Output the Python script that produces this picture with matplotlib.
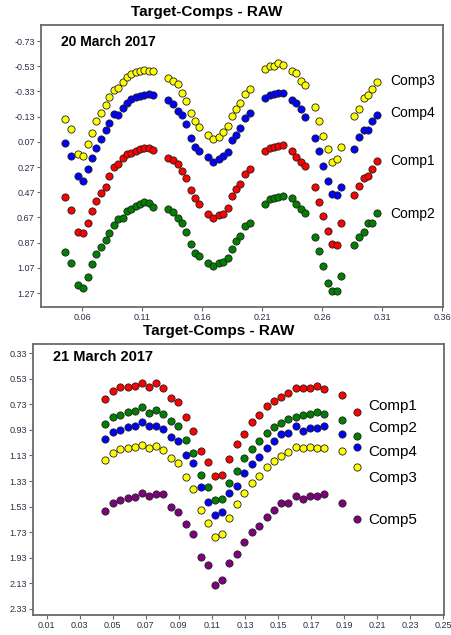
import matplotlib
matplotlib.use("Agg")
import matplotlib.pyplot as plt

plt.rcParams["font.family"] = ["Liberation Sans", "DejaVu Sans"]

# ---------------- 20 March 2017 ----------------
x_mar20 = [
    0.0456, 0.0503, 0.0567, 0.0606, 0.0645, 0.0681, 0.0718, 0.0753, 0.0795, 0.0827,
    0.0864, 0.0900, 0.0939, 0.0972, 0.1008, 0.1047, 0.1081, 0.1116, 0.1153, 0.1191,
    0.1316, 0.1358, 0.1397, 0.1431, 0.1466, 0.1503, 0.1539, 0.1575, 0.1650, 0.1691,
    0.1736, 0.1775, 0.1811, 0.1847, 0.1883, 0.1919, 0.1958, 0.1997,
    0.2127, 0.2164, 0.2197, 0.2233, 0.2274, 0.2349, 0.2386, 0.2422, 0.2461,
    0.2538, 0.2574, 0.2611, 0.2647, 0.2686, 0.2722, 0.2761,
    0.2866, 0.2905, 0.2947, 0.2980, 0.3019, 0.3055,
]
comp3_mar20 = [
    -0.109, -0.029, 0.167, 0.183, 0.087, 0.003, -0.097, -0.156, -0.224, -0.288,
    -0.341, -0.359, -0.407, -0.447, -0.466, -0.482, -0.494, -0.502, -0.494, -0.494,
    -0.434, -0.415, -0.389, -0.315, -0.254, -0.161, -0.097, -0.045, 0.014, 0.050,
    0.034, -0.010, -0.058, -0.135, -0.190, -0.236, -0.307, -0.349,
    -0.505, -0.532, -0.532, -0.558, -0.540, -0.494, -0.478, -0.415, -0.381,
    -0.209, -0.097, 0.024, 0.127, 0.228, 0.209, 0.114,
    -0.135, -0.190, -0.275, -0.301, -0.347, -0.402,
]
comp4_mar20 = [
    0.082, 0.183, 0.339, 0.381, 0.288, 0.199, 0.119, 0.048, -0.024, -0.077,
    -0.153, -0.140, -0.196, -0.236, -0.270, -0.283, -0.296, -0.304, -0.309, -0.299,
    -0.262, -0.230, -0.177, -0.143, -0.069, 0.037, 0.109, 0.141, 0.188, 0.228,
    0.209, 0.183, 0.151, 0.056, 0.016, -0.037, -0.117, -0.156,
    -0.280, -0.301, -0.307, -0.320, -0.320, -0.262, -0.236, -0.188, -0.124,
    0.042, 0.141, 0.260, 0.381, 0.484, 0.490, 0.426,
    0.127, 0.030, -0.024, -0.024, -0.095, -0.143,
]
comp1_mar20 = [
    0.506, 0.611, 0.783, 0.796, 0.712, 0.617, 0.540, 0.476, 0.426, 0.341,
    0.272, 0.249, 0.201, 0.169, 0.161, 0.141, 0.130, 0.122, 0.122, 0.133,
    0.201, 0.214, 0.249, 0.299, 0.360, 0.453, 0.518, 0.564, 0.643, 0.672,
    0.653, 0.643, 0.593, 0.500, 0.445, 0.405, 0.326, 0.288,
    0.143, 0.117, 0.109, 0.103, 0.095, 0.141, 0.193, 0.228, 0.260,
    0.426, 0.545, 0.659, 0.778, 0.881, 0.889, 0.717,
    0.492, 0.421, 0.360, 0.339, 0.288, 0.220,
]
comp2_mar20 = [
    0.942, 1.034, 1.207, 1.233, 1.141, 1.042, 0.960, 0.907, 0.849, 0.796,
    0.730, 0.685, 0.672, 0.617, 0.601, 0.580, 0.564, 0.545, 0.553, 0.585,
    0.606, 0.625, 0.672, 0.712, 0.788, 0.881, 0.950, 0.976, 1.034, 1.056,
    1.030, 1.026, 0.995, 0.921, 0.857, 0.818, 0.738, 0.712,
    0.564, 0.526, 0.518, 0.506, 0.498, 0.514, 0.566, 0.606, 0.633,
    0.828, 0.934, 1.053, 1.193, 1.254, 1.254, 1.133,
    0.889, 0.828, 0.783, 0.717, 0.712, 0.637,
]
xticks_mar20 = [0.06, 0.11, 0.16, 0.21, 0.26, 0.31, 0.36]
yticks_mar20 = [-0.73, -0.53, -0.33, -0.13, 0.07, 0.27, 0.47, 0.67, 0.87, 1.07, 1.27]

# ---------------- 21 March 2017 ----------------
x_mar21 = [
    0.0453, 0.0499, 0.0543, 0.0590, 0.0634, 0.0675, 0.0721, 0.0761, 0.0805, 0.0852,
    0.0896, 0.0945, 0.0987, 0.1032, 0.1078, 0.1118, 0.1162, 0.1205, 0.1250, 0.1294,
    0.1340, 0.1386, 0.1431, 0.1475, 0.1518, 0.1562, 0.1606, 0.1649, 0.1693, 0.1737,
    0.1779, 0.1885,
]
comp1_mar21 = [
    0.690, 0.625, 0.596, 0.592, 0.586, 0.560, 0.592, 0.560, 0.599, 0.678,
    0.709, 0.826, 0.938, 1.095, 1.179, 1.288, 1.283, 1.158, 1.040, 0.962,
    0.866, 0.813, 0.740, 0.704, 0.675, 0.643, 0.604, 0.599, 0.599, 0.586,
    0.612, 0.657,
]
comp2_mar21 = [
    0.886, 0.831, 0.813, 0.787, 0.782, 0.753, 0.795, 0.774, 0.805, 0.858,
    0.899, 1.009, 1.108, 1.285, 1.375, 1.479, 1.471, 1.348, 1.252, 1.152,
    1.079, 1.014, 0.952, 0.909, 0.878, 0.847, 0.826, 0.813, 0.808, 0.792,
    0.808, 0.852,
]
comp4_mar21 = [
    1.001, 0.949, 0.931, 0.905, 0.899, 0.866, 0.899, 0.899, 0.923, 0.988,
    1.017, 1.124, 1.187, 1.375, 1.497, 1.596, 1.570, 1.426, 1.367, 1.265,
    1.197, 1.140, 1.069, 1.017, 0.962, 0.956, 0.897, 0.938, 0.913, 0.913,
    0.899, 0.964,
]
comp3_mar21 = [
    1.166, 1.108, 1.082, 1.074, 1.066, 1.048, 1.074, 1.054, 1.087, 1.148,
    1.187, 1.296, 1.393, 1.557, 1.661, 1.766, 1.745, 1.622, 1.512, 1.426,
    1.348, 1.288, 1.218, 1.173, 1.134, 1.105, 1.066, 1.074, 1.061, 1.074,
    1.074, 1.095,
]
comp5_mar21 = [
    1.563, 1.505, 1.479, 1.465, 1.453, 1.426, 1.445, 1.434, 1.434, 1.536,
    1.570, 1.667, 1.745, 1.923, 1.988, 2.144, 2.105, 1.974, 1.902, 1.810,
    1.732, 1.682, 1.614, 1.557, 1.505, 1.500, 1.447, 1.471, 1.447, 1.447,
    1.434, 1.505,
]
xticks_mar21 = [0.01, 0.03, 0.05, 0.07, 0.09, 0.11, 0.13, 0.15, 0.17, 0.19, 0.21, 0.23, 0.25]
yticks_mar21 = [0.33, 0.53, 0.73, 0.93, 1.13, 1.33, 1.53, 1.73, 1.93, 2.13, 2.33]

COLORS = {
    "Comp1": "#ff0000",
    "Comp2": "#008000",
    "Comp3": "#ffff00",
    "Comp4": "#0000ff",
    "Comp5": "#800080",
}
TICK_COLOR = "#2e2e48"
SPINE_COLOR = "#6a6a6a"


def style_axes(ax, xticks, yticks, xlim, ylim):
    ax.set_xlim(*xlim)
    ax.set_ylim(*ylim)
    ax.set_xticks(xticks)
    ax.set_xticklabels([f"{t:.2f}" for t in xticks])
    ax.set_yticks(yticks)
    ax.set_yticklabels([f"{t:.2f}" for t in yticks])
    ax.tick_params(labelsize=6.5, length=3, width=0.8, colors=SPINE_COLOR,
                   labelcolor=TICK_COLOR, pad=1.5)
    for sp in ax.spines.values():
        sp.set_color(SPINE_COLOR)
        sp.set_linewidth(1.3)


def dots(ax, x, y, color):
    ax.plot(x, y, linestyle="none", marker="o", markersize=5.2,
            markerfacecolor=color, markeredgecolor="#202020", markeredgewidth=0.6)


fig = plt.figure(figsize=(4.52, 6.35), dpi=100)

# top panel
ax1 = fig.add_axes([0.0907, 0.5165, 0.889, 0.444])
for name, ys in [("Comp2", comp2_mar20), ("Comp1", comp1_mar20),
                 ("Comp4", comp4_mar20), ("Comp3", comp3_mar20)]:
    dots(ax1, x_mar20, ys, COLORS[name])
style_axes(ax1, xticks_mar20, yticks_mar20, (0.0256, 0.3606), (1.381, -0.857))
ax1.text(0.049, 0.941, "20 March 2017", transform=ax1.transAxes,
         fontsize=10, fontweight="bold", va="center", ha="left")
for name, ty in [("Comp3", 0.801), ("Comp4", 0.688), ("Comp1", 0.518), ("Comp2", 0.330)]:
    ax1.text(0.868, ty, name, transform=ax1.transAxes, fontsize=10,
             va="center", ha="left")
fig.text(0.458, 0.981, "Target-Comps - RAW", fontsize=11, fontweight="bold",
         ha="center", va="center")

# bottom panel
ax2 = fig.add_axes([0.073, 0.0315, 0.909, 0.4268])
for name, ys in [("Comp1", comp1_mar21), ("Comp2", comp2_mar21), ("Comp4", comp4_mar21),
                 ("Comp3", comp3_mar21), ("Comp5", comp5_mar21)]:
    dots(ax2, x_mar21, ys, COLORS[name])
style_axes(ax2, xticks_mar21, yticks_mar21, (0.0017, 0.2504), (2.379, 0.257))
ax2.text(0.049, 0.953, "21 March 2017", transform=ax2.transAxes,
         fontsize=10.5, fontweight="bold", va="center", ha="left")
# legend-like labels, marker and text slightly offset as in the original
key_layout = [("Comp1", 0.750, 0.771), ("Comp2", 0.662, 0.690), ("Comp4", 0.619, 0.603),
              ("Comp3", 0.547, 0.506), ("Comp5", 0.354, 0.351)]
for name, my, ty in key_layout:
    ax2.plot([0.788], [my], transform=ax2.transAxes, linestyle="none", marker="o",
             markersize=5.2, markerfacecolor=COLORS[name], markeredgecolor="#202020",
             markeredgewidth=0.6, clip_on=False)
    ax2.text(0.815, ty, name, transform=ax2.transAxes, fontsize=11,
             va="center", ha="left")
fig.text(0.483, 0.478, "Target-Comps - RAW", fontsize=11, fontweight="bold",
         ha="center", va="center")

fig.savefig("out.png", dpi=100)
